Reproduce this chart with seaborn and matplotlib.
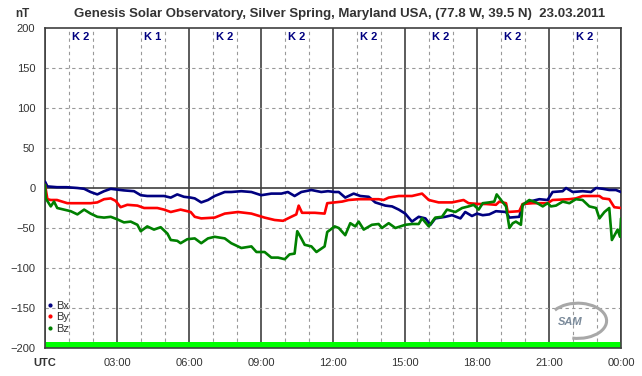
import numpy as np
import pandas as pd
import matplotlib
matplotlib.use("Agg")
import matplotlib.pyplot as plt
from matplotlib.lines import Line2D
from matplotlib.patches import Arc
import seaborn as sns

# ---- data (hours UTC, nT) ----
bx_hours = [0.0, 0.1, 0.5, 0.9, 1.35, 1.63, 1.9, 2.18, 2.46, 2.74, 3.0, 3.29, 3.71, 3.99,
            4.26, 4.54, 4.96, 5.24, 5.51, 5.79, 6.07, 6.24, 6.51, 6.79, 7.07, 7.49, 7.76,
            8.18, 8.6, 9.01, 9.43, 9.85, 10.12, 10.4, 10.68, 11.1, 11.51, 11.79, 12.07,
            12.24, 12.51, 12.86, 13.14, 13.49, 13.76, 14.18, 14.46, 14.74, 15.01, 15.29,
            15.57, 15.85, 16.06, 16.26, 16.68, 16.96, 17.31, 17.51, 17.79, 18.0, 18.24,
            18.51, 18.79, 19.21, 19.35, 19.76, 19.9, 20.18, 20.6, 20.94, 21.15, 21.57,
            21.71, 21.99, 22.4, 22.75, 22.96, 23.24, 23.51, 23.79, 24.0]
bx_values = [8, 2, 1, 1, 0, -1, -5, -8, -4, -1, -2, -3, -4, -9,
             -10, -10, -10, -12, -8, -11, -12, -13, -18, -15, -10, -5, -5,
             -4, -5, -9, -7, -7, -5, -10, -5, -2.5, -5, -4, -5,
             -5, -12, -7, -10, -11, -18, -22, -23, -27, -32, -42,
             -36, -38, -46, -38, -36, -34, -38, -30, -35, -32, -34,
             -33, -29, -30, -37, -36, -21, -17, -14, -15, -5, -4,
             0, -5, -4, -5, 0, -1, -2.5, -2.5, -5]

by_hours = [0.0, 0.1, 0.24, 0.5, 0.93, 1.35, 1.9, 2.18, 2.46, 2.74, 2.94, 3.15, 3.43, 3.85,
            4.13, 4.68, 4.96, 5.24, 5.65, 6.07, 6.24, 6.51, 7.07, 7.49, 8.04, 8.6, 9.15,
            9.57, 9.92, 10.26, 10.47, 10.57, 10.71, 11.24, 11.65, 11.76, 12.07, 12.38,
            12.65, 13.07, 13.49, 13.9, 14.11, 14.32, 14.74, 15.29, 15.71, 15.99, 16.4,
            16.96, 17.44, 17.65, 18.07, 18.375, 18.79, 18.93, 19.21, 19.28, 19.76, 19.9,
            20.32, 20.94, 21.15, 21.85, 22.12, 22.4, 23.1, 23.24, 23.51, 23.72, 24.0]
by_values = [4, -14, -15, -15, -19, -19, -19, -18, -14, -13, -16, -24, -21, -22,
             -25, -25, -27, -30, -27, -30, -36, -38, -37, -32, -30, -32, -37,
             -40, -41, -36, -33, -22, -31, -31, -32, -19, -18, -17,
             -15, -14, -14, -14, -15, -12, -10, -10, -7, -15, -18,
             -18, -15, -19, -20, -20, -21, -17, -19, -30, -29, -20,
             -19, -19, -15, -14, -13, -10, -10, -13, -14, -24, -25]

bz_hours = [0.0, 0.03, 0.24, 0.375, 0.51, 0.79, 1.07, 1.35, 1.63, 1.9, 2.18, 2.46, 2.74,
            3.0, 3.29, 3.57, 3.85, 3.99, 4.26, 4.54, 4.82, 5.1, 5.24, 5.51, 5.65, 5.93,
            6.24, 6.51, 6.79, 7.07, 7.49, 7.76, 8.18, 8.6, 8.81, 9.15, 9.43, 9.71, 9.99,
            10.19, 10.4, 10.51, 10.68, 10.82, 11.1, 11.31, 11.65, 11.76, 12.07, 12.24,
            12.51, 12.72, 12.93, 13.07, 13.28, 13.62, 13.9, 14.04, 14.32, 14.6, 15.01,
            15.29, 15.57, 15.71, 15.99, 16.26, 16.54, 16.75, 17.1, 17.38, 17.65, 17.86,
            18.07, 18.24, 18.51, 18.72, 18.82, 19.0, 19.21, 19.35, 19.49, 19.62, 19.83,
            19.9, 20.18, 20.46, 20.74, 20.94, 21.08, 21.29, 21.57, 21.85, 22.12, 22.4,
            22.68, 22.96, 23.1, 23.31, 23.51, 23.62, 23.86, 23.96, 24.0]
bz_values = [4, -13, -23, -17, -25, -27, -29, -33, -27, -32, -36, -37, -36,
             -39, -43, -42, -46, -54, -48, -52, -49, -57, -65, -66, -69, -64,
             -63, -69, -63, -61, -63, -69, -75, -73, -80, -80, -87, -87, -89,
             -83, -82, -54, -63, -71, -73, -80, -73, -55, -48, -50,
             -59, -44, -48, -42, -52, -46, -45, -50, -44, -50, -46,
             -45, -45, -38, -48, -37, -36, -27, -30, -25, -23, -21,
             -27, -19, -18, -17, -8, -15, -23, -50, -44, -42, -46,
             -21, -15, -18, -23, -19, -23, -22, -17, -19, -14, -15,
             -23, -25, -38, -30, -25, -65, -52, -61, -38]

k_labels = ["K 2", "K 1", "K 2", "K 2", "K 2", "K 2", "K 2", "K 2"]
x_tick_labels = ["UTC", "03:00", "06:00", "09:00", "12:00", "15:00", "18:00", "21:00", "00:00"]

df = pd.concat([
    pd.DataFrame({"hour": bx_hours, "nT": bx_values, "comp": "Bx"}),
    pd.DataFrame({"hour": by_hours, "nT": by_values, "comp": "By"}),
    pd.DataFrame({"hour": bz_hours, "nT": bz_values, "comp": "Bz"}),
])
palette = {"Bx": "#000080", "By": "#ff0000", "Bz": "#008000"}

sns.set_style("white")
plt.rcParams["font.family"] = ["Liberation Sans", "DejaVu Sans"]

fig = plt.figure(figsize=(6.42, 3.76), dpi=100)
ax = fig.add_axes([45 / 642, 28 / 376, 576 / 642, 320 / 376])

# grid: solid every 3 h and at zero, dashed elsewhere
for h in range(25):
    if h % 3 == 0:
        ax.axvline(h, color="#404040", lw=1.2, zorder=1)
    else:
        ax.axvline(h, color="#999999", lw=0.8, ls=(0, (3, 3)), zorder=1)
for v in range(-150, 200, 50):
    if v == 0:
        ax.axhline(v, color="#404040", lw=1.2, zorder=1)
    else:
        ax.axhline(v, color="#999999", lw=0.8, ls=(0, (3, 3)), zorder=1)

# green band at the bottom
ax.axhspan(-200, -192, color="#00ff00", zorder=2, lw=0)

sns.lineplot(data=df, x="hour", y="nT", hue="comp", palette=palette, estimator=None,
             sort=False, lw=1.9, ax=ax, legend=False, zorder=3)

ax.set_xlim(0, 24)
ax.set_ylim(-200, 200)
ax.set_xlabel("")
ax.set_ylabel("")

ax.set_xticks(range(0, 25, 3))
ax.set_xticklabels(x_tick_labels)
ax.set_xticks(range(25), minor=True)
ax.set_yticks(range(-200, 201, 50))
ax.tick_params(axis="both", which="both", direction="out", colors="#404040",
               labelcolor="#333333", labelsize=8)
ax.tick_params(axis="x", which="major", length=5, width=1, pad=2)
ax.tick_params(axis="x", which="minor", length=4, width=1)
ax.tick_params(axis="y", length=4, width=1, pad=3)
ax.get_xticklabels()[0].set_fontweight("bold")

for s in ax.spines.values():
    s.set_color("#404040")
    s.set_linewidth(1.2)

# K indices
for i, k in enumerate(k_labels):
    ax.text(1.5 + 3 * i, 189, k, color="#000080", fontsize=8, fontweight="bold",
            ha="center", va="center", zorder=4)

# legend
handles = [Line2D([], [], ls="none", marker="o", ms=2, color=palette[c]) for c in ["Bx", "By", "Bz"]]
leg = ax.legend(handles, ["Bx", "By", "Bz"], loc="lower left", bbox_to_anchor=(-0.004, 0.03),
                frameon=False, handlelength=0.6, handletextpad=0.25, labelspacing=0.15,
                fontsize=8, borderaxespad=0)
for t in leg.get_texts():
    t.set_color("#333333")

# SAM logo
ax.add_patch(Arc((0.925, 0.085), 0.10, 0.11, angle=0, theta1=-100, theta2=140,
                 transform=ax.transAxes, color="#a8a8a8", lw=2.2, zorder=4))
ax.text(0.912, 0.08, "SAM", transform=ax.transAxes, fontsize=8, fontstyle="italic",
        color="#7a8a9a", fontweight="bold", ha="center", va="center", zorder=5)

fig.text(22 / 642, 1 - 14 / 376, "nT", fontsize=8.5, fontweight="bold", color="#333333",
         ha="center", va="center")
fig.text(340 / 642, 1 - 14 / 376,
         "Genesis Solar Observatory, Silver Spring, Maryland USA, (77.8 W, 39.5 N)  23.03.2011",
         fontsize=9.5, fontweight="bold", color="#333333", ha="center", va="center")

fig.savefig("out.png", dpi=100, facecolor="white")
